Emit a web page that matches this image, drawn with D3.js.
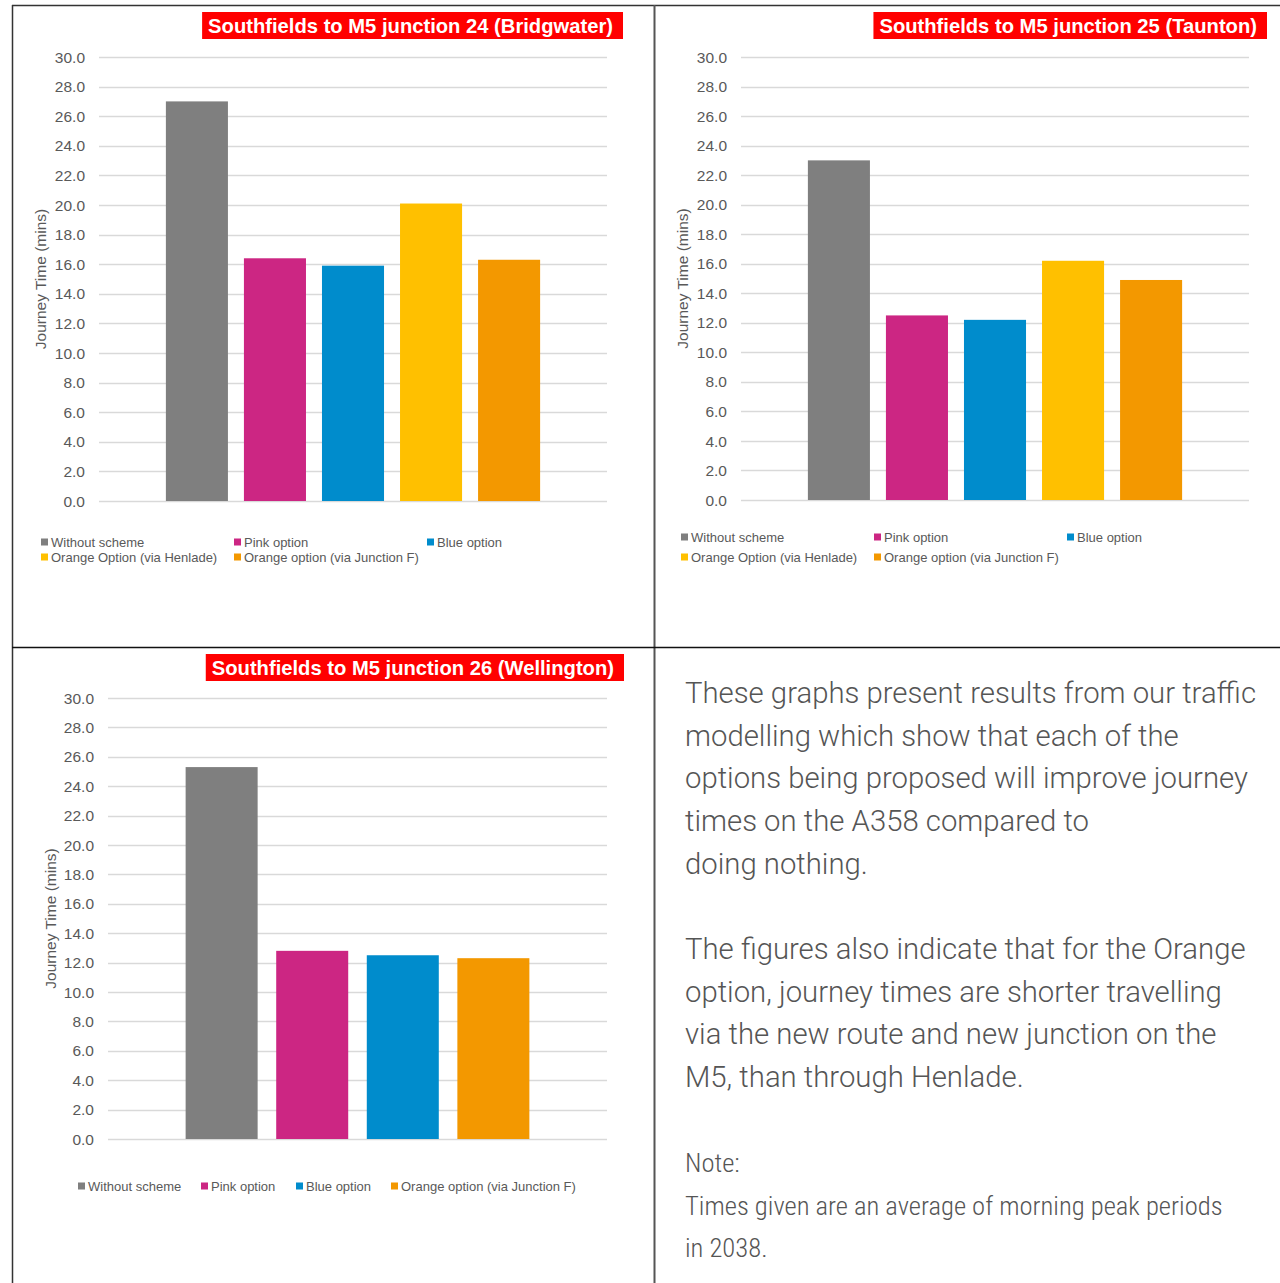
<!DOCTYPE html>
<html>
<head>
<meta charset="utf-8">
<script src="https://cdn.jsdelivr.net/npm/d3@7"></script>
<style>
  body { margin: 0; background: #fff; }
</style>
</head>
<body>
<div id="chart"></div>
<script>
// Journey times from Southfields to the M5 junctions, minutes
const series = ["Without scheme", "Pink option", "Blue option", "Orange Option (via Henlade)", "Orange option (via Junction F)"];
const seriesColors = ["#7f7f7f", "#cc2683", "#008ccc", "#ffc000", "#f39800"];
const j24Values = [27.0, 16.4, 15.9, 20.1, 16.3];
const j25Values = [23.0, 12.5, 12.2, 16.2, 14.9];
const j26Series = ["Without scheme", "Pink option", "Blue option", "Orange option (via Junction F)"];
const j26Colors = ["#7f7f7f", "#cc2683", "#008ccc", "#f39800"];
const j26Values = [25.3, 12.8, 12.5, 12.3];
const yTicks = [0, 2, 4, 6, 8, 10, 12, 14, 16, 18, 20, 22, 24, 26, 28, 30];

const para1 = ["These graphs present results from our traffic", "modelling which show that each of the",
  "options being proposed will improve journey", "times on the A358 compared to", "doing nothing."];
const para2 = ["The figures also indicate that for the Orange", "option, journey times are shorter travelling",
  "via the new route and new junction on the", "M5, than through Henlade."];
const note = ["Note:", "Times given are an average of morning peak periods", "in 2038."];

const width = 1280, height = 1283;
const textGrey = "#595959";
const font = "'Liberation Sans', Arial, sans-serif";

const svg = d3.select("#chart")
  .append("svg")
  .attr("width", width)
  .attr("height", height)
  .attr("viewBox", [0, 0, width, height])
  .style("font-family", font);

// panel frame
const frame = svg.append("g").attr("stroke", "#333").attr("fill", "none");
frame.append("line").attr("x1", 12).attr("x2", width).attr("y1", 5.5).attr("y2", 5.5).attr("stroke-width", 1.5);
frame.append("line").attr("x1", 12.5).attr("x2", 12.5).attr("y1", 5).attr("y2", height).attr("stroke-width", 1.5);
frame.append("line").attr("x1", 654.5).attr("x2", 654.5).attr("y1", 5).attr("y2", height).attr("stroke-width", 2).attr("stroke", "#555");
frame.append("line").attr("x1", 12).attr("x2", width).attr("y1", 647.5).attr("y2", 647.5).attr("stroke-width", 1.5).attr("stroke", "#111");

function drawChart(c) {
  const g = svg.append("g");

  const y = d3.scaleLinear().domain([0, 30]).range([c.yBottom, c.yTop]);
  const x = d3.scaleBand()
    .domain(c.names)
    .range([c.left, c.right])
    .paddingInner(0.205)
    .paddingOuter(0.857);

  // gridlines
  g.append("g")
    .selectAll("line")
    .data(yTicks)
    .join("line")
      .attr("x1", c.left)
      .attr("x2", c.right)
      .attr("y1", d => Math.round(y(d)) + 0.5)
      .attr("y2", d => Math.round(y(d)) + 0.5)
      .attr("stroke", "#d9d9d9")
      .attr("stroke-width", 1.3);

  // tick labels
  g.append("g")
    .selectAll("text")
    .data(yTicks)
    .join("text")
      .attr("x", c.left - 14)
      .attr("y", d => y(d))
      .attr("dy", "0.36em")
      .attr("text-anchor", "end")
      .attr("font-size", "15.5px")
      .attr("fill", textGrey)
      .text(d => d3.format(".1f")(d));

  // axis title
  g.append("text")
    .attr("transform", `translate(${c.titleX},${(c.yTop + c.yBottom) / 2}) rotate(-90)`)
    .attr("text-anchor", "middle")
    .attr("dy", "0.35em")
    .attr("font-size", "15.5px")
    .attr("fill", textGrey)
    .text("Journey Time (mins)");

  // bars
  g.append("g")
    .selectAll("rect")
    .data(c.values)
    .join("rect")
      .attr("x", (d, i) => x(c.names[i]))
      .attr("width", x.bandwidth())
      .attr("y", d => y(d))
      .attr("height", d => y(0) - y(d))
      .attr("fill", (d, i) => c.colors[i]);

  // red title box
  const tg = g.append("g");
  const box = tg.append("rect")
    .attr("y", c.boxTop)
    .attr("height", 27)
    .attr("fill", "#ff0000");
  const title = tg.append("text")
    .attr("x", c.boxRight - 10)
    .attr("y", c.boxTop + 20.5)
    .attr("text-anchor", "end")
    .attr("font-size", "20.2px")
    .attr("font-weight", "bold")
    .attr("fill", "white")
    .text(c.title);
  const tw = title.node().getComputedTextLength();
  box.attr("x", c.boxRight - tw - 16).attr("width", tw + 16);

  // legend
  const leg = g.append("g")
    .selectAll("g")
    .data(c.names)
    .join("g")
      .attr("transform", (d, i) => `translate(${c.legendX[i]},${c.legendY[i]})`);
  leg.append("rect")
    .attr("x", 0).attr("y", -3.5)
    .attr("width", 7).attr("height", 7)
    .attr("fill", (d, i) => c.colors[i]);
  leg.append("text")
    .attr("x", 10)
    .attr("dy", "0.35em")
    .attr("font-size", "13px")
    .attr("fill", textGrey)
    .text(d => d);
}

drawChart({
  title: "Southfields to M5 junction 24 (Bridgwater)", names: series, colors: seriesColors, values: j24Values,
  left: 99, right: 607, yTop: 57, yBottom: 501, titleX: 41, boxRight: 623, boxTop: 12,
  legendX: [41, 234, 427, 41, 234], legendY: [542, 542, 542, 557, 557]
});
drawChart({
  title: "Southfields to M5 junction 25 (Taunton)", names: series, colors: seriesColors, values: j25Values,
  left: 741, right: 1249, yTop: 57, yBottom: 500, titleX: 683, boxRight: 1267, boxTop: 12,
  legendX: [681, 874, 1067, 681, 874], legendY: [537, 537, 537, 557, 557]
});
drawChart({
  title: "Southfields to M5 junction 26 (Wellington)", names: j26Series, colors: j26Colors, values: j26Values,
  left: 108, right: 607, yTop: 698, yBottom: 1139, titleX: 51, boxRight: 624, boxTop: 654,
  legendX: [78, 201, 296, 391], legendY: [1186, 1186, 1186, 1186]
});

// explanatory text
function drawLines(lines, top, step, size, family, weight) {
  svg.append("g")
    .selectAll("text")
    .data(lines)
    .join("text")
      .attr("x", 685)
      .attr("y", (d, i) => top + i * step)
      .attr("font-size", size + "px")
      .attr("font-family", family)
      .attr("font-weight", weight)
      .attr("fill", "#555")
      .text(d => d);
}
drawLines(para1, 703, 42.7, 29.3, "Roboto, 'Liberation Sans', sans-serif", 300);
drawLines(para2, 959, 42.7, 29.3, "Roboto, 'Liberation Sans', sans-serif", 300);
drawLines(note, 1172, 42.7, 26.6, "'Liberation Sans Narrow', 'Roboto Condensed', 'DejaVu Sans Condensed', sans-serif", 300);
</script>
</body>
</html>
